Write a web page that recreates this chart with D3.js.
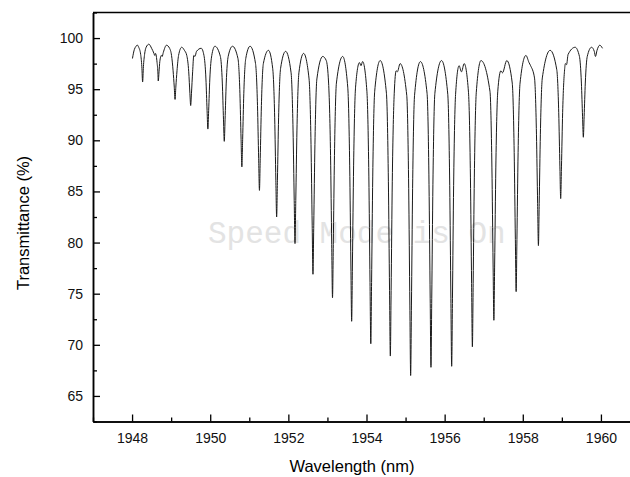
<!DOCTYPE html>
<html>
<head>
<meta charset="utf-8">
<script src="https://cdn.jsdelivr.net/npm/d3@7"></script>
<style>
  html, body { margin: 0; padding: 0; background: #fff; }
  svg { display: block; }
</style>
</head>
<body>
<svg id="chart" width="630" height="477"></svg>
<script>
// ---- data ----
const xTicks = [1948, 1950, 1952, 1954, 1956, 1958, 1960];
const xMinorTicks = [1947, 1949, 1951, 1953, 1955, 1957, 1959, 1961];
const yTicks = [65, 70, 75, 80, 85, 90, 95, 100];
const yMinorTicks = [62.5, 67.5, 72.5, 77.5, 82.5, 87.5, 92.5, 97.5, 102.5];

// wavelength (nm) of each sampled point of the transmission curve
const wavelength = [
  1948.01, 1948.06, 1948.14,
  1948.17, 1948.22, 1948.25, 1948.27, 1948.29, 1948.32, 1948.36,
  1948.43, 1948.50, 1948.56, 1948.58, 1948.60,
  1948.64, 1948.66, 1948.67, 1948.69, 1948.71, 1948.75,
  1948.77, 1948.80, 1948.88, 1948.96,
  1949.01, 1949.05, 1949.08, 1949.10, 1949.12, 1949.15, 1949.19,
  1949.27, 1949.34, 1949.40,
  1949.45, 1949.48, 1949.50, 1949.52, 1949.55, 1949.58,
  1949.61, 1949.65, 1949.77,
  1949.84, 1949.89, 1949.92, 1949.94, 1949.96, 1949.99, 1950.04,
  1950.12,
  1950.26, 1950.31, 1950.34, 1950.36, 1950.38, 1950.41, 1950.46,
  1950.57,
  1950.71, 1950.76, 1950.79, 1950.81, 1950.83, 1950.86, 1950.91,
  1951.02,
  1951.16, 1951.21, 1951.24, 1951.26, 1951.28, 1951.31, 1951.36,
  1951.49,
  1951.60, 1951.65, 1951.68, 1951.70, 1951.72, 1951.75, 1951.80,
  1951.93,
  1952.07, 1952.12, 1952.15, 1952.17, 1952.19, 1952.22, 1952.27,
  1952.39,
  1952.53, 1952.58, 1952.61, 1952.63, 1952.65, 1952.68, 1952.73,
  1952.88, 1952.97,
  1953.03, 1953.08, 1953.11, 1953.13, 1953.15, 1953.18, 1953.23,
  1953.39,
  1953.52, 1953.57, 1953.60, 1953.62, 1953.64, 1953.67, 1953.72,
  1953.82, 1953.86, 1953.90,
  1954.01, 1954.06, 1954.09, 1954.11, 1954.13, 1954.16, 1954.21,
  1954.35,
  1954.51, 1954.56, 1954.59, 1954.61, 1954.63, 1954.66, 1954.71,
  1954.76, 1954.79, 1954.86,
  1955.03, 1955.08, 1955.11, 1955.13, 1955.15, 1955.18, 1955.23,
  1955.38,
  1955.55, 1955.60, 1955.63, 1955.65, 1955.67, 1955.70, 1955.75,
  1955.92,
  1956.08, 1956.13, 1956.16, 1956.18, 1956.20, 1956.23, 1956.28,
  1956.37, 1956.43, 1956.50,
  1956.61, 1956.66, 1956.69, 1956.71, 1956.73, 1956.76, 1956.81,
  1956.93,
  1957.16, 1957.21, 1957.24, 1957.26, 1957.28, 1957.31, 1957.36,
  1957.44, 1957.48, 1957.59,
  1957.73, 1957.78, 1957.81, 1957.83, 1957.85, 1957.88, 1957.93,
  1958.08, 1958.16, 1958.20,
  1958.30, 1958.35, 1958.38, 1958.40, 1958.42, 1958.45, 1958.50,
  1958.70,
  1958.87, 1958.92, 1958.95, 1958.97, 1958.99, 1959.02, 1959.07,
  1959.09, 1959.12, 1959.16, 1959.34,
  1959.45, 1959.50, 1959.53, 1959.55, 1959.57, 1959.60, 1959.65,
  1959.76, 1959.83, 1959.86, 1959.90, 1959.97, 1960.04
];

// transmittance (%) at each of those wavelengths
const transmittance = [
  98.0, 98.9, 99.3,
  99.1, 98.4, 97.2, 95.7, 97.2, 98.4, 99.1,
  99.4, 99.0, 98.5, 98.3, 98.5,
  97.6, 96.7, 95.8, 96.7, 97.7, 98.3,
  98.2, 98.6, 99.3, 99.0,
  98.3, 96.8, 95.2, 94.0, 95.2, 96.8, 98.3,
  99.1, 98.8, 98.3,
  96.7, 94.6, 93.4, 94.6, 96.7, 98.3,
  98.2, 98.7, 99.0,
  98.3, 96.0, 92.9, 91.1, 92.9, 96.0, 98.3,
  99.2,
  98.2, 95.6, 92.0, 89.9, 92.0, 95.6, 98.2,
  99.2,
  98.0, 94.6, 90.1, 87.4, 90.1, 94.6, 98.0,
  99.2,
  97.5, 93.4, 88.2, 85.1, 88.2, 93.4, 97.5,
  98.8,
  97.0, 92.2, 86.1, 82.5, 86.1, 92.2, 97.0,
  98.7,
  96.6, 91.0, 84.1, 79.9, 84.1, 91.0, 96.6,
  98.5,
  96.0, 89.6, 81.7, 76.9, 81.7, 89.6, 96.0,
  98.2, 97.8,
  95.6, 88.5, 79.8, 74.6, 79.8, 88.5, 95.6,
  98.2,
  95.2, 87.5, 78.0, 72.3, 78.0, 87.5, 95.2,
  97.6, 97.3, 97.7,
  94.8, 86.5, 76.1, 70.1, 76.1, 86.5, 94.8,
  97.8,
  94.6, 86.0, 75.3, 68.9, 75.3, 86.0, 94.6,
  96.8, 96.7, 97.5,
  94.4, 85.3, 73.8, 67.0, 73.8, 85.3, 94.4,
  97.7,
  94.6, 85.7, 74.5, 67.8, 74.5, 85.7, 94.6,
  97.8,
  94.5, 85.6, 74.5, 67.9, 74.5, 85.6, 94.5,
  97.3, 96.7, 97.5,
  94.7, 86.4, 76.0, 69.8, 76.0, 86.4, 94.7,
  97.8,
  94.8, 87.3, 77.9, 72.4, 77.9, 87.3, 94.8,
  96.8, 96.6, 97.8,
  95.6, 88.8, 80.3, 75.2, 80.3, 88.8, 95.6,
  98.3, 97.6, 97.3,
  96.1, 90.6, 83.8, 79.7, 83.8, 90.6, 96.1,
  98.8,
  96.9, 92.7, 87.4, 84.3, 87.4, 92.7, 96.9,
  97.5, 97.4, 98.4, 99.1,
  98.2, 95.6, 92.3, 90.3, 92.3, 95.6, 98.2,
  99.1, 98.7, 98.2, 98.8, 99.3, 99.0
];

const xLabel = "Wavelength (nm)";
const yLabel = "Transmittance (%)";
const watermark = "Speed Mode is On";

// ---- drawing ----
const svg = d3.select("#chart");
const margin = { left: 93, top: 12.5, right: 640, bottom: 421.5 };

const x = d3.scaleLinear().domain([1947, 1961]).range([margin.left, margin.right]);
const y = d3.scaleLinear().domain([62.5, 102.5]).range([margin.bottom, margin.top]);

const font = "'Liberation Sans', Arial, sans-serif";

// watermark (behind the curve)
svg.append("text")
  .attr("x", 208).attr("y", 243)
  .attr("font-family", "'Liberation Mono', 'Courier New', monospace")
  .attr("font-size", 31)
  .attr("fill", "#e3e3e3")
  .text(watermark);

const points = wavelength.map((w, i) => [w, transmittance[i]]);
const line = d3.line()
  .x(d => x(d[0]))
  .y(d => y(d[1]))
  .curve(d3.curveMonotoneX);

svg.append("path")
  .datum(points)
  .attr("d", line)
  .attr("fill", "none")
  .attr("stroke", "#1a1a1a")
  .attr("stroke-width", 1);

// frame (top border)
svg.append("line")
  .attr("x1", margin.left).attr("x2", 630)
  .attr("y1", margin.top).attr("y2", margin.top)
  .attr("stroke", "#000").attr("stroke-width", 1.5);

// bottom axis
const xAxis = svg.append("g")
  .attr("transform", `translate(0,${margin.bottom})`)
  .call(d3.axisBottom(x).tickValues(xTicks).tickFormat(d3.format("d"))
        .tickSizeInner(-7).tickSizeOuter(0).tickPadding(12));
const xMinor = svg.append("g")
  .attr("transform", `translate(0,${margin.bottom})`)
  .call(d3.axisBottom(x).tickValues(xMinorTicks).tickFormat("")
        .tickSizeInner(-4).tickSizeOuter(0));

// left axis
const yAxis = svg.append("g")
  .attr("transform", `translate(${margin.left},0)`)
  .call(d3.axisLeft(y).tickValues(yTicks).tickFormat(d3.format("d"))
        .tickSizeInner(-7).tickSizeOuter(0).tickPadding(10));
const yMinor = svg.append("g")
  .attr("transform", `translate(${margin.left},0)`)
  .call(d3.axisLeft(y).tickValues(yMinorTicks).tickFormat("")
        .tickSizeInner(-4).tickSizeOuter(0));

[xAxis, xMinor, yAxis, yMinor].forEach(g => {
  g.select(".domain").attr("stroke", "#000").attr("stroke-width", 1.5);
  g.selectAll(".tick line").attr("stroke", "#000").attr("stroke-width", 1.3);
  g.selectAll(".tick text").attr("font-family", font).attr("font-size", 14).attr("fill", "#111");
});

// axis titles
svg.append("text")
  .attr("x", 352).attr("y", 472)
  .attr("text-anchor", "middle")
  .attr("font-family", font).attr("font-size", 16.5)
  .text(xLabel);

svg.append("text")
  .attr("transform", "translate(29,223) rotate(-90)")
  .attr("text-anchor", "middle")
  .attr("font-family", font).attr("font-size", 16.5)
  .text(yLabel);
</script>
</body>
</html>
